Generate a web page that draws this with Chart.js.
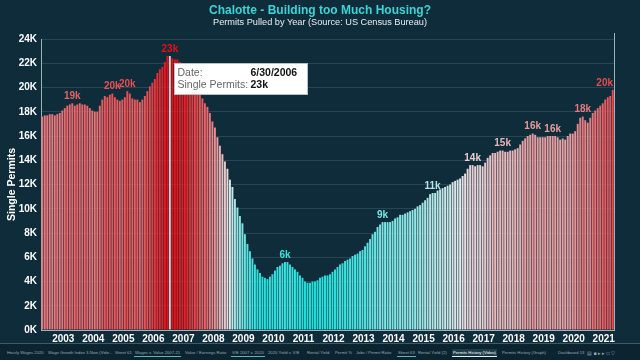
<!DOCTYPE html>
<html>
<head>
<meta charset="utf-8">
<script src="https://cdn.jsdelivr.net/npm/chart.js@4.4.1/dist/chart.umd.min.js"></script>
<style>
  html, body { margin: 0; padding: 0; background: #0f2c3b; }
  #wrap { position: relative; width: 640px; height: 360px; overflow: hidden; font-family: "Liberation Sans", Arial, sans-serif; }
  #title { position: absolute; top: 3px; left: 0; width: 640px; text-align: center; font-size: 12px; font-weight: bold; color: #3fd3d6; }
  #subtitle { position: absolute; top: 17px; left: 0; width: 640px; text-align: center; font-size: 9.2px; color: #e8eef0; }
  #chart { position: absolute; left: 0; top: 0; }
  #tabs { position: absolute; left: 0; top: 343px; width: 640px; height: 17px; border-top: 1px solid #3d5b67;
          background-color: #0c2430; white-space: nowrap; font-size: 4.2px; color: #94abb3; }
  #tabs span { position: absolute; top: 5px; padding: 1px 1px; }
  #tabs span.mark { border-bottom: 1px solid #58b7b5; }
  #tabs span.active { background: #1d3b48; color: #ffffff; border-bottom: 1px solid #e8e8e8; }
</style>
</head>
<body>
<div id="wrap">
  <canvas id="chart" width="640" height="342"></canvas>
  <div id="title">Chalotte - Building too Much Housing?</div>
  <div id="subtitle">Permits Pulled by Year (Source: US Census Bureau)</div>
  <div id="tabs">
    <span style="left:6px">Hourly Wages 2020</span>
    <span style="left:47px">Wage Growth Index 3-Now (Vide...</span>
    <span style="left:114px">Sheet 61</span>
    <span class="mark" style="left:134px">Wages v. Value 2007-21</span>
    <span style="left:184px">Value / Earnings Ratio</span>
    <span class="mark" style="left:231px">V/E 2007 v. 2020</span>
    <span style="left:267px">2020 Yield v. V/E</span>
    <span style="left:306px">Rental Yield</span>
    <span style="left:334px">Permit %</span>
    <span style="left:355px">Jobs / Permit Ratio</span>
    <span class="mark" style="left:397px">Sheet 63</span>
    <span style="left:417px">Rental Yield (2)</span>
    <span class="active" style="left:452px">Permits History (Video)</span>
    <span style="left:501px">Permits History (Graph)</span>
    <span style="left:557px">Dashboard 13</span>
    <span style="left:586px; font-size:5px">&#9636; &#9632; &#9656; &#9656; &#9633; &#9661;</span>
  </div>
</div>
<script>
// first bar is March 2002, one bar per month
const startYear = 2002;
const startMonth = 3;

// single-family permits, thousands (rolling 12 months)
const permits = [
  17.6, 17.7, 17.7, 17.8, 17.8, 17.7, 17.8, 17.9, 18.1, 18.3,
  18.5, 18.6, 18.7, 18.5, 18.6, 18.7, 18.6, 18.6, 18.5, 18.3, 18.1, 18.0,
  18.0, 18.5, 19.0, 19.3, 19.2, 19.4, 19.5, 19.2, 19.0, 18.9, 19.0, 19.2,
  19.7, 19.5, 19.1, 19.0, 19.0, 18.8, 19.0, 19.3, 19.7, 20.1, 20.4, 20.7,
  21.2, 21.5, 21.7, 22.1, 22.6, 22.6, 22.4, 22.3, 22.3, 22.1, 22.0, 21.8,
  21.4, 21.0, 20.6, 20.2, 19.8, 19.5, 19.1, 18.7, 18.4, 17.9, 17.2, 16.7,
  15.9, 15.2, 14.5, 13.9, 13.3, 12.4, 11.8, 10.8, 10.1, 9.4, 8.8, 7.9,
  7.1, 6.5, 5.9, 5.4, 5.0, 4.7, 4.4, 4.3, 4.2, 4.4, 4.6, 4.9,
  5.2, 5.3, 5.5, 5.6, 5.6, 5.4, 5.2, 5.0, 4.8, 4.5, 4.3, 4.0,
  3.9, 3.9, 4.0, 4.0, 4.1, 4.3, 4.4, 4.5, 4.5, 4.6, 4.8, 5.0,
  5.2, 5.4, 5.5, 5.7, 5.8, 5.9, 6.1, 6.2, 6.3, 6.5, 6.6, 6.9,
  7.2, 7.5, 7.9, 8.1, 8.5, 8.7, 8.9, 8.9, 8.9, 8.9, 9.0, 9.2,
  9.3, 9.5, 9.5, 9.6, 9.7, 9.8, 9.9, 10.0, 10.2, 10.3, 10.5, 10.7,
  10.9, 11.2, 11.3, 11.3, 11.5, 11.6, 11.7, 11.8, 11.9, 12.0, 12.2, 12.3,
  12.4, 12.5, 12.7, 12.9, 13.3, 13.6, 13.6, 13.5, 13.6, 13.6, 13.5, 13.8,
  14.2, 14.4, 14.6, 14.6, 14.7, 14.8, 14.8, 14.7, 14.7, 14.8, 14.8, 14.9,
  15.0, 15.3, 15.6, 15.8, 16.0, 16.1, 16.2, 16.1, 15.9, 15.9, 15.9, 15.9,
  16.0, 16.0, 16.0, 16.0, 15.9, 15.7, 15.8, 15.7, 16.0, 16.2, 16.2, 16.4,
  17.0, 17.5, 17.6, 17.3, 17.1, 17.5, 17.9, 18.1, 18.3, 18.5, 18.7, 19.0,
  19.2, 19.3, 19.8
];

// bars that carry a value mark, and the one under the mouse
const markedBars = [12, 28, 34, 51, 97, 136, 156, 172, 184, 196, 204, 216, 228];
const hoverBar = 51;
const yTicks = [0, 2, 4, 6, 8, 10, 12, 14, 16, 18, 20, 22, 24];

const months = permits.map((_, i) => {
  const m = (startMonth - 1 + i) % 12;
  const y = startYear + Math.floor((startMonth - 1 + i) / 12);
  const d = new Date(y, m + 1, 0).getDate();
  return `${m + 1}/${d}/${y}`;
});

// diverging cyan - white - red
const lo = [32, 224, 220], mid = [232, 232, 234], hi = [230, 15, 20];
const vMin = 3.9, vMid = 12.5, vMax = 22.6;
const barColor = v => {
  let b, t;
  if (v < vMid) { b = lo; t = Math.pow(Math.min(1, (vMid - v) / (vMid - vMin)), 0.7); }
  else { b = hi; t = Math.min(1, (v - vMid) / (vMax - vMid)); }
  return `rgb(${mid.map((c, k) => Math.round(c + (b[k] - c) * t)).join(',')})`;
};
const colors = permits.map((v, i) => i === hoverBar ? '#f2c0c4' : barColor(v));

const axisColor = '#9db2ba';
const fontFamily = '"Liberation Sans", Arial, sans-serif';
Chart.defaults.font.family = fontFamily;

const valueMarks = {
  id: 'valueMarks',
  afterDatasetsDraw(chart) {
    const ctx = chart.ctx;
    const a = chart.chartArea;
    const meta = chart.getDatasetMeta(0);
    ctx.save();
    ctx.font = `bold 10px ${fontFamily}`;
    ctx.textAlign = 'center';
    ctx.textBaseline = 'bottom';
    markedBars.forEach(i => {
      const el = meta.data[i];
      const txt = `${Math.round(permits[i])}k`;
      const half = ctx.measureText(txt).width / 2;
      ctx.fillStyle = barColor(permits[i]);
      ctx.fillText(txt, Math.min(el.x, a.right - half - 1), el.y - 2);
    });
    // right edge of the pane
    ctx.strokeStyle = axisColor;
    ctx.lineWidth = 1;
    ctx.beginPath();
    ctx.moveTo(a.right + 0.5, a.top - 6);
    ctx.lineTo(a.right + 0.5, a.bottom);
    ctx.stroke();
    ctx.restore();
  }
};

const hoverBox = {
  id: 'hoverBox',
  afterDraw(chart) {
    const ctx = chart.ctx;
    const el = chart.getDatasetMeta(0).data[hoverBar];
    const bx = Math.round(el.x) + 4.5, by = Math.round(el.y) + 7.5;
    const w = 133, h = 31;
    ctx.save();
    ctx.fillStyle = '#ffffff';
    ctx.strokeStyle = '#b9c0c4';
    ctx.lineWidth = 1;
    ctx.fillRect(bx, by, w, h);
    ctx.strokeRect(bx, by, w, h);
    ctx.textBaseline = 'middle';
    ctx.textAlign = 'left';
    ctx.font = `10.5px ${fontFamily}`;
    ctx.fillStyle = '#666666';
    ctx.fillText('Date:', bx + 3, by + 10);
    ctx.fillText('Single Permits:', bx + 3, by + 22);
    ctx.font = `bold 10.5px ${fontFamily}`;
    ctx.fillStyle = '#111111';
    ctx.fillText(months[hoverBar], bx + 76, by + 10);
    ctx.fillText(`${Math.round(permits[hoverBar])}k`, bx + 76, by + 22);
    ctx.restore();
  }
};

new Chart(document.getElementById('chart'), {
  type: 'bar',
  data: {
    labels: months,
    datasets: [{
      label: 'Single Permits',
      data: permits,
      backgroundColor: colors,
      borderWidth: 0,
      barPercentage: 0.78,
      categoryPercentage: 1
    }]
  },
  options: {
    responsive: false,
    animation: false,
    layout: { padding: { top: 39, right: 26, bottom: 0, left: 0 } },
    plugins: {
      legend: { display: false },
      title: { display: false },
      tooltip: { enabled: false }
    },
    scales: {
      x: {
        grid: { display: false, drawTicks: false },
        border: { display: true, color: axisColor },
        ticks: {
          autoSkip: false,
          maxRotation: 0,
          minRotation: 0,
          padding: 3,
          labelOffset: -4,
          color: '#ffffff',
          font: { size: 10, weight: 'bold' },
          callback: (val, i) => months[i].startsWith('1/') ? months[i].split('/')[2] : null
        },
        afterFit: scale => { scale.height = 12; }
      },
      y: {
        min: 0,
        max: 24,
        afterBuildTicks: scale => { scale.ticks = yTicks.map(v => ({ value: v })); },
        grid: { color: 'rgba(130, 175, 195, 0.2)', drawTicks: false },
        border: { display: true, color: axisColor },
        ticks: {
          padding: 4,
          color: '#ffffff',
          font: { size: 10, weight: 'bold' },
          callback: v => `${v}K`
        },
        title: {
          display: true,
          text: 'Single Permits',
          color: '#ffffff',
          padding: { top: 6, bottom: 0 },
          font: { size: 10.5, weight: 'bold' }
        },
        afterFit: scale => { scale.width = 41; }
      }
    }
  },
  plugins: [valueMarks, hoverBox]
});
</script>
</body>
</html>
